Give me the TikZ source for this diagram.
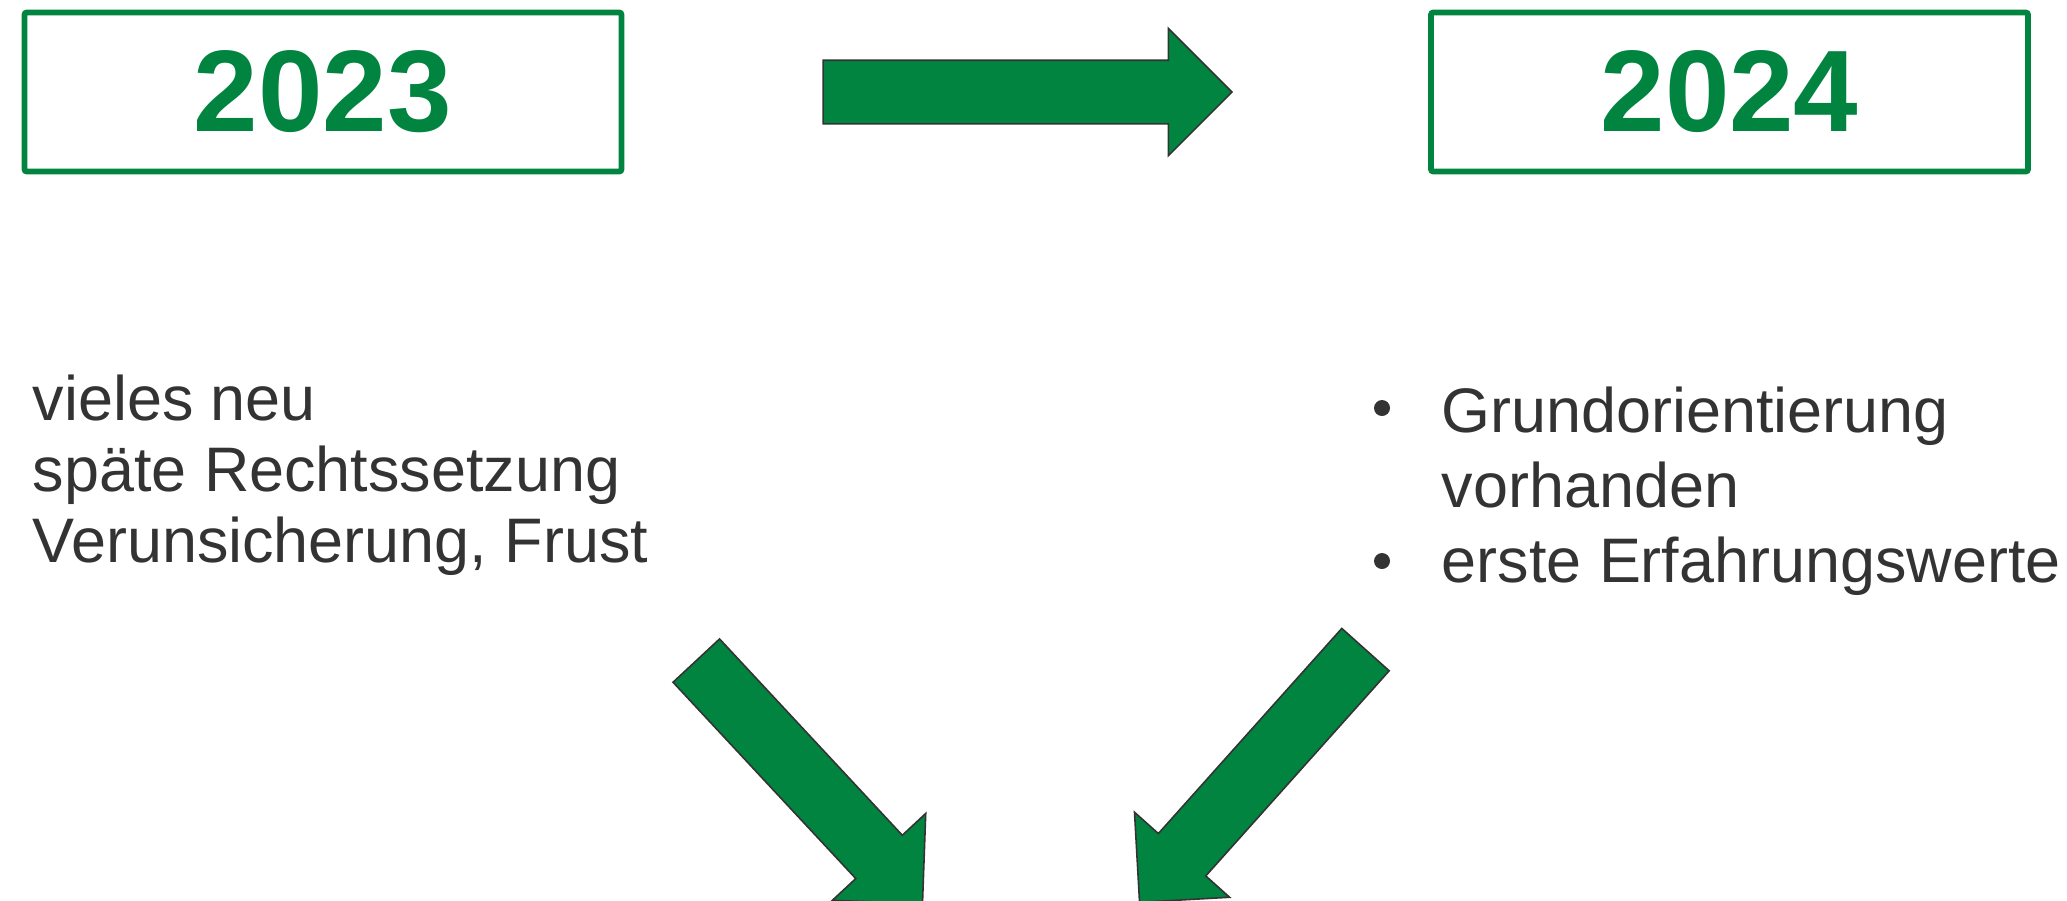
\documentclass[tikz,border=0pt]{standalone}
\usepackage{fontspec}
\setmainfont{Liberation Sans}
\usetikzlibrary{shapes.arrows,positioning}

\definecolor{slidegreen}{HTML}{00843F}
\definecolor{slidetext}{HTML}{333333}
\definecolor{arrowedge}{HTML}{333333}

\begin{document}
\begin{tikzpicture}[
  yearbox/.style={draw=slidegreen, line width=1.6pt, rounded corners=0.6pt, minimum width=5.97cm, minimum height=1.59cm, inner sep=0pt, text=slidegreen, font=\fontsize{33}{40}\selectfont\bfseries},
  greenarrow/.style={single arrow, draw=arrowedge, fill=slidegreen, line width=0.45pt, inner sep=0pt, inner ysep=0.31cm, minimum width=0pt, single arrow head extend=0.32cm, single arrow tip angle=90, anchor=tail},
  bodytext/.style={anchor=base west, inner sep=0pt, text=slidetext, font=\fontsize{17.9}{21}\selectfont},
  bulletdot/.style={circle, fill=slidetext, minimum size=0.16cm, inner sep=0pt}
]
\useasboundingbox (0,0) rectangle (20.67,-9);

% year boxes
\node[yearbox] (y2023) at (3.23,-0.92) {2023};
\node[yearbox] (y2024) at (17.295,-0.92) {2024};

\node[greenarrow, minimum height=4.09cm] (arrtop) at ([xshift=1.98cm]y2023.east) {};

% 2023
\node[bodytext] (lt1) at (0.32,-4.20) {vieles neu};
\node[bodytext] (lt2) at (0.32,-4.91) {späte Rechtssetzung};
\node[bodytext] (lt3) at (0.32,-5.62) {Verunsicherung, Frust};

% 2024
\node[bulletdot] (b1) at (13.82,-4.08) {};
\node[bodytext] (rt1) at (14.41,-4.32) {Grundorientierung};
\node[bodytext] (rt2) at (14.41,-5.07) {vorhanden};
\node[bulletdot] (b2) at (13.82,-5.61) {};
\node[bodytext] (rt3) at (14.41,-5.82) {erste Erfahrungswerte};

\node[greenarrow, rotate=-47.05, minimum height=3.32cm] (arrleft) at (6.9575,-6.60) {};
\node[greenarrow, rotate=-131.8, minimum height=3.39cm] (arrright) at (13.66,-6.49) {};
\end{tikzpicture}
\end{document}
